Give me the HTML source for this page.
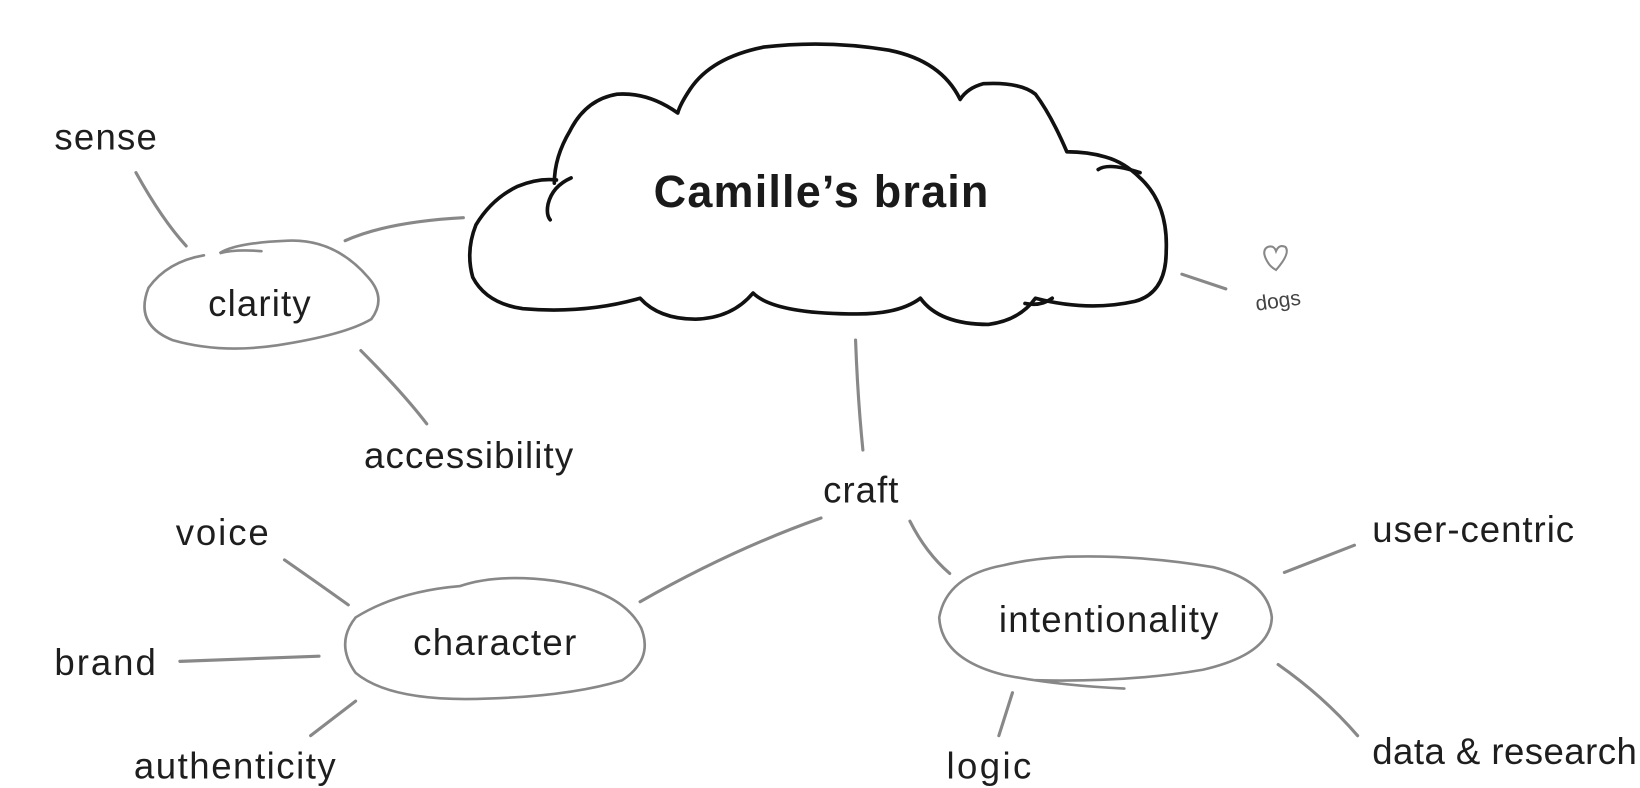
<!DOCTYPE html>
<html><head><meta charset="utf-8"><style>
html,body{margin:0;padding:0;background:#fff;}
svg{display:block;}
text{font-family:"Liberation Sans",sans-serif;fill:#1e1e1e;}
</style></head><body>
<svg width="1640" height="788" viewBox="0 0 1568 753" preserveAspectRatio="none" xmlns="http://www.w3.org/2000/svg">
<g fill="none" stroke="#888" stroke-width="3" stroke-linecap="round">
<path d="M130 165 Q155 210 178 235"/>
<path d="M330 230 Q370 212 443 208"/>
<path d="M345 335 Q385 375 408 405"/>
<path d="M818 325 Q820 380 825 430"/>
<path d="M785 495 Q700 525 612 575"/>
<path d="M870 498 Q885 528 908 548"/>
<path d="M272 535 Q305 558 333 578"/>
<path d="M172 632 L305 627"/>
<path d="M340 670 L297 703"/>
<path d="M968 662 L955 703"/>
<path d="M1228 547 L1295 521"/>
<path d="M1222 635 Q1265 665 1298 703"/>
<path d="M1130 262 L1172 276"/>
<path d="M195 244 Q160 250 142 275 Q128 310 165 325 Q210 338 265 330 Q330 320 355 305 Q370 285 352 265 Q320 228 275 230 Q225 232 210 242 Q225 238 250 240" stroke-width="2.5"/>
<path d="M440 560 Q380 565 340 590 Q320 615 340 643 Q370 668 445 668 Q540 667 595 650 Q625 630 613 600 Q595 565 530 555 Q475 548 440 560 Z" stroke-width="2.5"/>
<path d="M960 540 Q905 550 898 590 Q900 630 960 645 Q1010 655 1075 658 M990 650 Q1080 652 1150 640 Q1215 625 1216 590 Q1212 555 1160 542 Q1090 530 1020 532 Q985 534 960 540" stroke-width="2.5"/>
<path d="M1213 252 Q1205 240 1212 236 Q1218 234 1220 240 Q1223 233 1229 236 Q1234 242 1220 258 Q1215 255 1213 252" stroke-width="2"/>
</g>
<path fill="#fff" stroke="#111" stroke-width="3.5" stroke-linejoin="round" stroke-linecap="round"
d="M532 172 Q515 170 495 178 Q470 190 455 215 Q445 240 452 265 Q465 290 500 295 Q560 300 612 285 Q630 305 665 305 Q700 304 720 280 Q740 300 820 300 Q860 300 880 285 Q898 310 945 310 Q975 306 990 285 Q1040 298 1085 288 Q1115 280 1115 240 Q1117 195 1090 170 Q1075 155 1057 150 Q1040 145 1020 145 Q1005 110 990 90 Q975 78 940 80 Q925 84 918 95 Q900 58 850 48 Q790 38 730 45 Q680 55 660 85 Q650 100 648 108 Q620 88 590 90 Q560 95 545 125 Q530 150 530 175"/>
<path fill="none" stroke="#111" stroke-width="3.5" stroke-linecap="round" d="M546 170 Q528 178 524 195 Q522 205 526 210 M1006 285 Q995 293 980 290 M1090 165 Q1060 155 1050 162"/>
<text x="785" y="198" text-anchor="middle" font-size="43" font-weight="bold" style="fill:#1a1a1a" textLength="320">Camille’s brain</text>
<g font-size="35">
<text x="52" y="143" textLength="98">sense</text>
<text x="248" y="302" text-anchor="middle" textLength="98">clarity</text>
<text x="348" y="447" textLength="200">accessibility</text>
<text x="787" y="480" textLength="72">craft</text>
<text x="168" y="521" textLength="89">voice</text>
<text x="473" y="626" text-anchor="middle" textLength="156">character</text>
<text x="52" y="645" textLength="97">brand</text>
<text x="128" y="744" textLength="193">authenticity</text>
<text x="1060" y="604" text-anchor="middle" textLength="210">intentionality</text>
<text x="1312" y="518" textLength="193">user-centric</text>
<text x="905" y="744" textLength="81">logic</text>
<text x="1312" y="730" textLength="253">data &amp; research</text>
</g>
<text x="1222" y="294" text-anchor="middle" font-size="20" transform="rotate(-8 1222 288)" style="fill:#444">dogs</text>
</svg>
</body></html>
